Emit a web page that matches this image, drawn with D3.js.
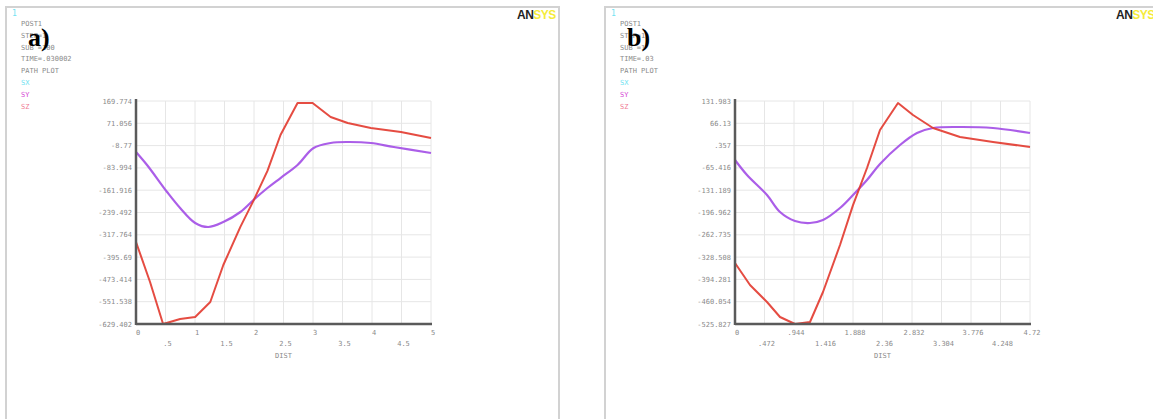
<!DOCTYPE html>
<html lang="en">
<head>
    <meta charset="UTF-8">
    <title>Path plot a) b)</title>
    <script src="https://d3js.org/d3.v7.min.js"></script>
    <style>
        body { margin: 0; background: #fff; }
        .tick-lbl { font-family: "DejaVu Sans Mono", monospace; font-size: 7px; fill: #8a8a8a; }
        .grid { stroke: #e6e6e6; stroke-width: 1; }
        .axis-line { stroke: #5a5a5a; stroke-width: 2.5; }
    </style>
</head>
<body>
    <svg width="1153" height="419"></svg>
    <script>
        // panel a) data
        const xLabelsA = ['0', '.5', '1', '1.5', '2', '2.5', '3', '3.5', '4', '4.5', '5'];
        const yLabelsA = ['169.774', '71.056', '-8.77', '-83.994', '-161.916', '-239.492',
                          '-317.764', '-395.69', '-473.414', '-551.538', '-629.402'];
        const distA = [0, .238, .459, .748, 1.003, 1.259, 1.48, 1.769, 1.99, 2.228, 2.449, 2.738, 2.993, 3.299, 3.588, 3.98, 4.49, 5];
        const szA = [-335.5, -478.9, -629.4, -611.5, -604.3, -550.6, -418.0, -281.4, -188.2, -80.7, 47.9, 162.6, 162.6, 112.4, 90.9, 73.0, 58.7, 37.2];
        const distA2 = [0, .187, .527, .748, 1.003, 1.224, 1.48, 1.769, 1.99, 2.228, 2.449, 2.738, 3.01, 3.299, 3.588, 3.98, 4.37, 5];
        const syA = [-13.0, -59.6, -156.4, -213.7, -267.4, -281.8, -263.9, -228.0, -185.0, -142.0, -106.2, -59.6, 1.3, 19.3, 22.8, 19.3, 4.9, -16.6];
        const infoA = ['POST1', 'STEP=1', 'SUB =100', 'TIME=.030002', 'PATH PLOT'];

        // panel b) data
        const xLabelsB = ['0', '.472', '.944', '1.416', '1.888', '2.36', '2.832', '3.304', '3.776', '4.248', '4.72'];
        const yLabelsB = ['131.983', '66.13', '.357', '-65.416', '-131.189', '-196.962',
                          '-262.735', '-328.508', '-394.281', '-460.054', '-525.827'];
        const distB = [0, .24, .512, .72, .96, 1.2, 1.408, 1.68, 1.888, 2.112, 2.32, 2.608, 2.848, 3.168, 3.6, 4.128, 4.72];
        const szB = [-345.9, -410.8, -460.9, -505.2, -525.8, -519.9, -431.4, -292.8, -175.0, -65.7, 46.4, 126.1, 90.7, 52.3, 25.8, 11.0, -3.7];
        const distB2 = [0, .192, .512, .72, .96, 1.2, 1.408, 1.68, 1.888, 2.112, 2.32, 2.64, 2.912, 3.168, 3.6, 4.128, 4.72];
        const syB = [-42.1, -86.3, -145.3, -195.4, -222.0, -227.9, -219.0, -183.6, -145.3, -101.1, -53.9, 2.2, 37.6, 52.3, 55.3, 52.3, 37.6];
        const infoB = ['POST1', 'STEP=1', 'SUB =1', 'TIME=.03', 'PATH PLOT'];

        const legend = [['SX', '#6fe3f2'], ['SY', '#d648d6'], ['SZ', '#f07a92']];
        const colRed = '#e2392e', colPurple = '#a24ce6';

        const svg = d3.select('svg');

        function drawPanel(left, width, tag, info, xLabels, yLabels, series) {
            const g = svg.append('g').attr('transform', `translate(${left},0)`);
            // frame
            g.append('rect').attr('x', 0).attr('y', 7).attr('width', width).attr('height', 430)
                .attr('fill', '#fff').attr('stroke', '#d2d2d2').attr('stroke-width', 2);

            g.append('text').attr('x', 6).attr('y', 16).attr('class', 'tick-lbl')
                .style('fill', '#6fe3f2').style('font-size', '8px').text('1');

            // ANSYS logo
            const logo = g.append('text').attr('x', 511).attr('y', 19)
                .style('font-family', 'Liberation Sans, Arial, sans-serif').style('font-weight', 'bold')
                .style('font-size', '12px').style('letter-spacing', '-0.5px');
            logo.append('tspan').attr('fill', '#222').text('AN');
            logo.append('tspan').attr('fill', '#f5ec3a').text('SYS');

            // info text
            info.forEach((t, i) => {
                g.append('text').attr('class', 'tick-lbl').attr('x', 15).attr('y', 26 + i * 11.8).text(t);
            });
            legend.forEach((d, i) => {
                g.append('text').attr('class', 'tick-lbl').attr('x', 15).attr('y', 26 + (i + 5) * 11.8)
                    .style('fill', d[1]).text(d[0]);
            });

            g.append('text').attr('x', 22).attr('y', 46)
                .style('font-family', 'Liberation Serif, Times New Roman, serif')
                .style('font-weight', 'bold').style('font-size', '26px').attr('fill', '#000').text(tag);

            // plot area
            const x0 = 130, x1 = x0 + 295, yTop = 101, yBot = 324;
            const xMax = +xLabels[xLabels.length - 1];
            const yMax = +yLabels[0], yMin = +yLabels[yLabels.length - 1];
            const x = d3.scaleLinear().domain([0, xMax]).range([x0, x1]);
            const y = d3.scaleLinear().domain([yMin, yMax]).range([yBot, yTop]);
            const xTicks = xLabels.map((d, i) => i * xMax / (xLabels.length - 1));
            const yTicks = yLabels.map((d, i) => yMax - i * (yMax - yMin) / (yLabels.length - 1));

            g.append('g').selectAll('line.v').data(xTicks).join('line').attr('class', 'grid')
                .attr('x1', d => x(d)).attr('x2', d => x(d)).attr('y1', yTop).attr('y2', yBot);
            g.append('g').selectAll('line.h').data(yTicks).join('line').attr('class', 'grid')
                .attr('x1', x0).attr('x2', x1).attr('y1', d => y(d)).attr('y2', d => y(d));

            g.append('g').selectAll('text').data(yTicks).join('text').attr('class', 'tick-lbl')
                .attr('x', x0 - 4).attr('y', d => y(d) + 2.5).attr('text-anchor', 'end')
                .text((d, i) => yLabels[i]);
            g.append('g').selectAll('text').data(xTicks).join('text').attr('class', 'tick-lbl')
                .attr('x', d => x(d) + 2).attr('y', (d, i) => i % 2 ? 346 : 335).attr('text-anchor', 'middle')
                .text((d, i) => xLabels[i]);
            g.append('text').attr('class', 'tick-lbl').attr('x', (x0 + x1) / 2).attr('y', 358)
                .attr('text-anchor', 'middle').text('DIST');

            series.forEach(s => {
                const line = d3.line().x(d => x(d[0])).y(d => y(d[1])).curve(s.curve);
                g.append('path').datum(d3.zip(s.x, s.y)).attr('d', line)
                    .attr('fill', 'none').attr('stroke', s.color).attr('stroke-width', s.w)
                    .attr('stroke-linejoin', 'round').attr('opacity', 0.9);
            });

            g.append('line').attr('class', 'axis-line').attr('x1', x0).attr('x2', x0).attr('y1', yTop - 2).attr('y2', yBot + 1);
            g.append('line').attr('class', 'axis-line').attr('x1', x0).attr('x2', x1 + 1).attr('y1', yBot).attr('y2', yBot);
        }

        drawPanel(6, 553, 'a)', infoA, xLabelsA, yLabelsA, [
            { x: distA2, y: syA, color: colPurple, w: 2.2, curve: d3.curveCatmullRom },
            { x: distA, y: szA, color: colRed, w: 2, curve: d3.curveLinear }
        ]);
        drawPanel(605, 560, 'b)', infoB, xLabelsB, yLabelsB, [
            { x: distB2, y: syB, color: colPurple, w: 2.2, curve: d3.curveCatmullRom },
            { x: distB, y: szB, color: colRed, w: 2, curve: d3.curveLinear }
        ]);
    </script>
</body>
</html>
